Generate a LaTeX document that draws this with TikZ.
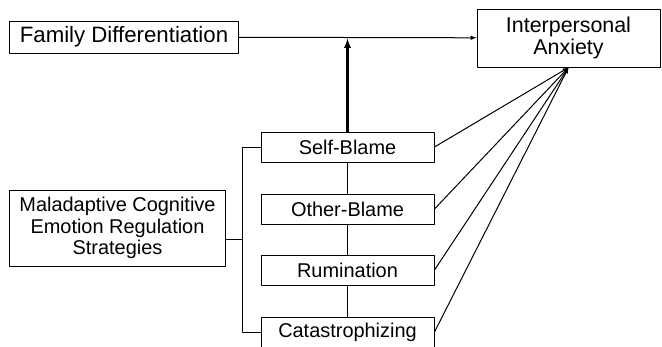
\documentclass[tikz,border=0pt]{standalone}
\usepackage{fontspec}
\setmainfont{Liberation Sans}
\begin{document}
\begin{tikzpicture}[>=latex,line join=round,x=1bp,y=-1bp,line width=1bp,
	 box/.style={draw,inner sep=0pt,align=center,font=\fontsize{20}{21.5}\selectfont},
	 big/.style={box,font=\fontsize{21.5}{23}\selectfont},
	 strat/.style={box,minimum width=173bp,minimum height=30bp}]
	 \useasboundingbox (0,0) rectangle (662,346);
	 \node[big,font=\fontsize{22.3}{23}\selectfont,minimum width=228bp,minimum height=32bp] (fd) at (124,37) {Family Differentiation};
	 \node[big,minimum width=183bp,minimum height=58bp] (ia) at (568.5,38) {Interpersonal\\Anxiety};
	 \node[box,minimum width=215bp,minimum height=76bp] (mc) at (117.5,228) {Maladaptive Cognitive\\Emotion Regulation\\Strategies};
	 \node[strat] (sb) at (347.5,147) {Self-Blame};
	 \node[strat] (ob) at (347.5,209) {Other-Blame};
	 \node[strat] (ru) at (347.5,270) {Rumination};
	 \node[strat] (ca) at (347.5,332) {Catastrophizing};
	 \coordinate (mod) at (sb.north |- fd.east);
	 \coordinate (stub) at ([yshift=-11bp]mc.east);
	 \draw[->] (fd) -- (ia);
	 \draw[->,line width=2.2bp,shorten >=1.5bp] (sb) -- (mod);
	 \draw (sb) -- (ob) -- (ru) -- (ca);
	 \draw (sb.west) -- ++(-18,0) coordinate (brk) |- (ca.west);
	 \draw (stub) -- (stub -| brk);
	 \foreach \s in {sb,ob,ru,ca}
	 \draw[->] (\s.east) -- (ia.south);
\end{tikzpicture}
\end{document}
